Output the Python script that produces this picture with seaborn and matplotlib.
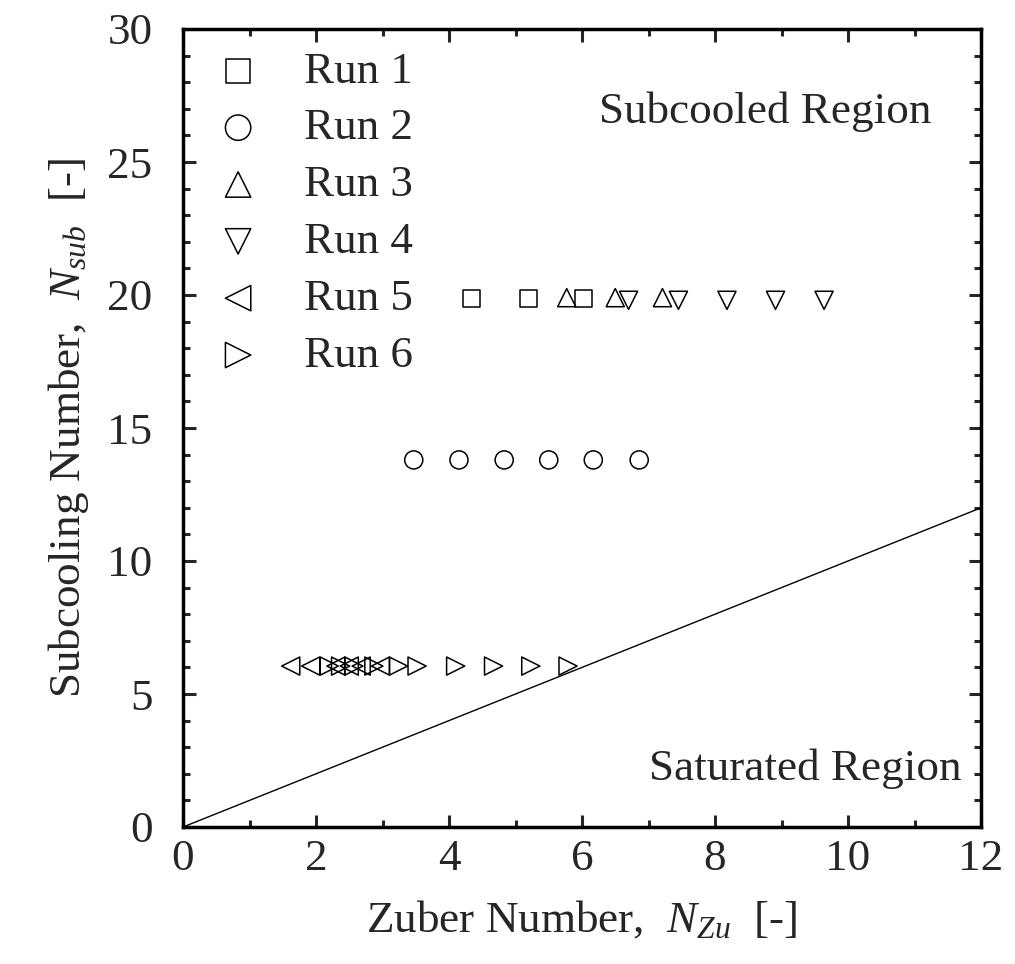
import matplotlib
matplotlib.use("Agg")
import matplotlib.pyplot as plt
from matplotlib.ticker import MultipleLocator
import seaborn as sns

run_labels = ['Run 1', 'Run 2', 'Run 3', 'Run 4', 'Run 5', 'Run 6']
run_markers = ['s', 'o', '^', 'v', '<', '>']

run1_zu = [4.34, 5.19, 6.02]
run1_sub = [19.85, 19.85, 19.85]
run2_zu = [3.47, 4.15, 4.83, 5.50, 6.17, 6.86]
run2_sub = [13.8, 13.8, 13.8, 13.8, 13.8, 13.8]
run3_zu = [5.77, 6.50, 7.21]
run3_sub = [19.9, 19.9, 19.9]
run4_zu = [6.70, 7.45, 8.18, 8.91, 9.64]
run4_sub = [19.8, 19.8, 19.8, 19.8, 19.8]
run5_zu = [1.62, 1.92, 2.30, 2.50, 2.68, 2.97]
run5_sub = [6.05, 6.05, 6.05, 6.05, 6.05, 6.05]
run6_zu = [2.20, 2.37, 2.57, 2.87, 3.24, 3.52, 4.10, 4.67, 5.23, 5.79]
run6_sub = [6.05, 6.05, 6.05, 6.05, 6.05, 6.05, 6.05, 6.05, 6.05, 6.05]

# boundary between subcooled and saturated regions
boundary_zu = [0, 12]
boundary_sub = [0, 12]


def main():
    sns.set_style('ticks')
    plt.rcParams['font.family'] = ['Liberation Serif', 'DejaVu Serif']
    plt.rcParams['mathtext.fontset'] = 'custom'
    plt.rcParams['mathtext.rm'] = 'Liberation Serif'
    plt.rcParams['mathtext.it'] = 'Liberation Serif:italic'
    fs = 32.5

    fig = plt.figure(figsize=(10.15, 9.64), dpi=100)
    ax = fig.add_axes([183 / 1015, 1 - 827 / 964, 798 / 1015, 798 / 964])

    xs = [run1_zu, run2_zu, run3_zu, run4_zu, run5_zu, run6_zu]
    ys = [run1_sub, run2_sub, run3_sub, run4_sub, run5_sub, run6_sub]
    sizes = [150, 170, 170, 170, 170, 170]
    for x, y, m, lab, s in zip(xs, ys, run_markers, run_labels, sizes):
        sns.scatterplot(x=x, y=y, marker=m, s=s, facecolor='none',
                        edgecolor='black', linewidth=1.1, label=lab, ax=ax)

    sns.lineplot(x=boundary_zu, y=boundary_sub, color='black', linewidth=1.0, ax=ax)

    ax.set_xlim(0, 12)
    ax.set_ylim(0, 30)
    ax.xaxis.set_major_locator(MultipleLocator(2))
    ax.xaxis.set_minor_locator(MultipleLocator(1))
    ax.yaxis.set_major_locator(MultipleLocator(5))
    ax.yaxis.set_minor_locator(MultipleLocator(1))
    ax.tick_params(which='both', direction='in', top=True, right=True, width=2.2)
    ax.tick_params(which='major', length=9)
    ax.tick_params(which='minor', length=5)
    ax.tick_params(axis='x', labelsize=fs, pad=9)
    ax.tick_params(axis='y', labelsize=fs, pad=22)
    for sp in ax.spines.values():
        sp.set_linewidth(2.5)
        sp.set_color('black')

    ax.set_xlabel('Zuber Number,  $N_{Zu}$  [-]', fontsize=fs, labelpad=14)
    ax.set_ylabel('Subcooling Number,  $N_{sub}$  [-]', fontsize=fs, labelpad=12)

    ax.text(11.26, 26.45, 'Subcooled Region', fontsize=fs, ha='right', va='baseline')
    ax.text(11.71, 1.77, 'Saturated Region', fontsize=fs, ha='right', va='baseline')

    ax.legend(loc='upper left', frameon=False, fontsize=fs, markerscale=1.4,
              handlelength=1.5, handletextpad=0.7, labelspacing=0.36,
              borderaxespad=0, bbox_to_anchor=(0.004, 0.995))

    fig.savefig('out.png', dpi=100)


if __name__ == "__main__":
    main()
